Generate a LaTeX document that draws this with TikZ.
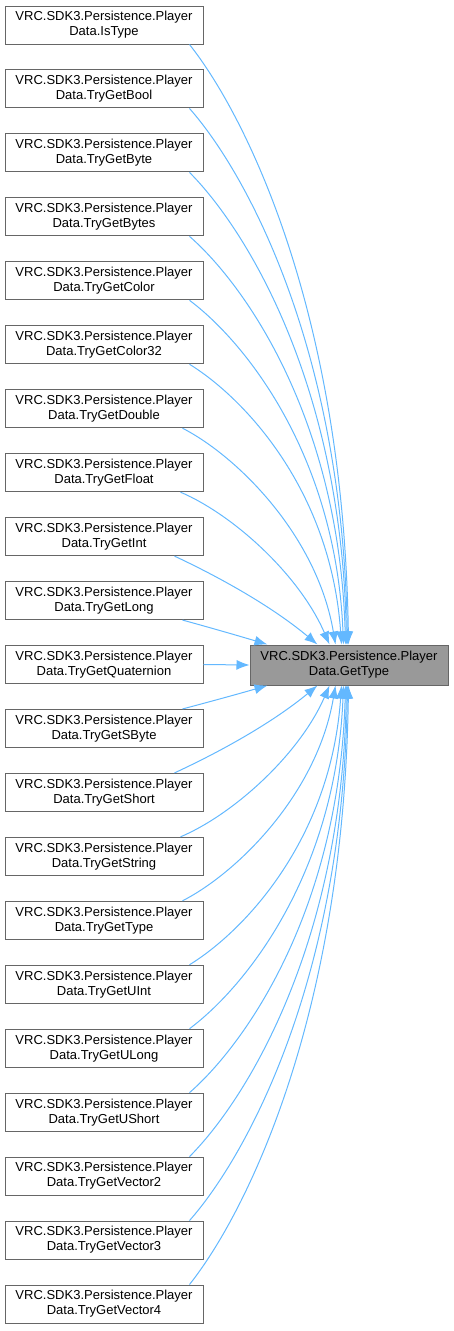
\documentclass[tikz,border=0pt]{standalone}
\usepackage{fontspec}
\setmainfont{Liberation Sans}
\usetikzlibrary{arrows.meta,calc}
\definecolor{edgec}{HTML}{63B8FF}
\definecolor{bordc}{HTML}{666666}
\definecolor{tgtc}{HTML}{999999}
\tikzset{
  fn/.style={draw=bordc, line width=1pt, fill=white, minimum width=198pt, minimum height=38pt,
    inner sep=0pt, align=center, font=\fontsize{13}{15}\selectfont},
  tgt/.style={fn, fill=tgtc, minimum height=40pt},
  edge/.style={draw=edgec, line width=1pt, -{Latex[length=13pt,width=10pt]}}
}
\begin{document}
\begin{tikzpicture}[x=1pt,y=-1pt]
\useasboundingbox (0,0) rectangle (453,1331);
\foreach \nm [count=\i from 0] in {IsType,TryGetBool,TryGetByte,TryGetBytes,TryGetColor,TryGetColor32,TryGetDouble,TryGetFloat,TryGetInt,TryGetLong,TryGetQuaternion,TryGetSByte,TryGetShort,TryGetString,TryGetType,TryGetUInt,TryGetULong,TryGetUShort,TryGetVector2,TryGetVector3,TryGetVector4}{
  \node[fn] (n\i) at (104,{25+\i*63.95}) {VRC.SDK3.Persistence.Player\\Data.\nm};
}
\node[tgt] (t) at (349,665) {VRC.SDK3.Persistence.Player\\Data.GetType};
% edges from boxes above
\foreach \i/\sx/\ex/\e/\f/\g in {0/185/99/0.03/0.55/0.12,1/185/98/0.03/0.55/0.12,2/185/97/0.03/0.55/0.12,3/185/96/0.04/0.55/0.12,4/185/94/0.05/0.55/0.12,5/185/92/0.07/0.55/0.12,6/178/86/0.12/0.5/0.13,7/176/80/0.2/0.45/0.15,8/170/68/0.3/0.4/0.27,9/178/18/0.33/0.33/0.33}{
  \pgfmathsetmacro\dx{245+\ex-\sx}
  \pgfmathsetmacro\dy{601-\i*63.95}
  \draw[edge] ($(n\i.south west)+(\sx,0)$) .. controls +({0.36*\dx},{\g*\dy}) and +({-\e*\dx},{-\f*\dy}) .. ($(t.north west)+(\ex,0)$);
}
\draw[edge] (n10.east) -- (t.west);
% edges from boxes below
\foreach \i/\sx/\ex/\e/\f/\g in {11/178/18/0.33/0.33/0.33,12/170/68/0.3/0.4/0.27,13/176/80/0.2/0.45/0.15,14/178/86/0.12/0.5/0.13,15/185/92/0.07/0.55/0.12,16/185/94/0.05/0.55/0.12,17/185/96/0.04/0.55/0.12,18/185/97/0.03/0.55/0.12,19/185/98/0.03/0.55/0.12,20/185/99/0.03/0.55/0.12}{
  \pgfmathsetmacro\dx{245+\ex-\sx}
  \pgfmathsetmacro\dy{685-(6+\i*63.95)}
  \draw[edge] ($(n\i.north west)+(\sx,0)$) .. controls +({0.36*\dx},{\g*\dy}) and +({-\e*\dx},{-\f*\dy}) .. ($(t.south west)+(\ex,0)$);
}
\end{tikzpicture}
\end{document}
